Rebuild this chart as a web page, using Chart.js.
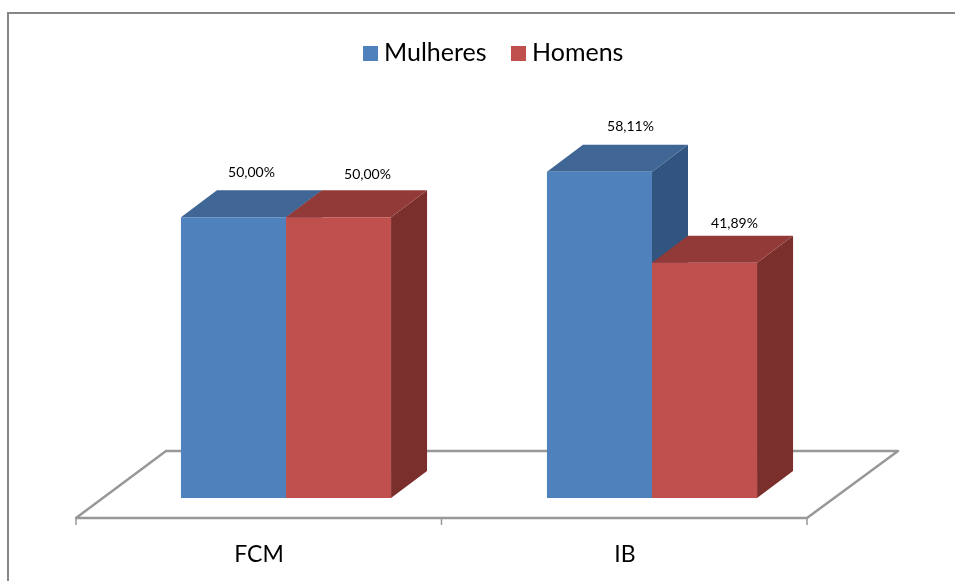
<!DOCTYPE html>
<html>
<head>
<meta charset="utf-8">
<style>
    html, body { margin: 0; padding: 0; background: #fff; }
    canvas { display: block; }
</style>
<script src="https://cdn.jsdelivr.net/npm/chart.js@4"></script>
</head>
<body>
<canvas id="generoChart" width="955" height="581"></canvas>
<script>
const categories = ['FCM', 'IB'];
const mulheres = [50.00, 58.11];
const homens = [50.00, 41.89];

const fontName = 'Lato, "Open Sans", sans-serif';
const depthX = 36, depthY = 27;

// colours of the two visible extra faces of each 3D bar
const faces = [
    { top: '#3f6695', side: '#31557f' },
    { top: '#923a37', side: '#7b2f2d' }
];
// value labels do not sit at a fixed spot over the bars in the original
const labelShift = [
    [{ x: 18, y: -18 }, { x: 31, y: -18 }],
    [{ x: 29, y: -16 }, { x: 30, y: -12 }]
];

function formatPct(value) {
    return value.toFixed(2).replace('.', ',') + '%';
}

function polygon(ctx, pts, fill) {
    ctx.fillStyle = fill;
    ctx.beginPath();
    pts.forEach(([x, y], i) => i ? ctx.lineTo(x, y) : ctx.moveTo(x, y));
    ctx.closePath();
    ctx.fill();
}

const fakeThreeD = {
    id: 'fakeThreeD',
    beforeDraw(chart) {
        const ctx = chart.ctx;
        ctx.save();
        ctx.strokeStyle = '#868686';
        ctx.lineWidth = 2;
        ctx.beginPath();
        ctx.moveTo(8, 581);
        ctx.lineTo(8, 13);
        ctx.lineTo(955, 13);
        ctx.stroke();
        ctx.restore();
    },
    beforeDatasetsDraw(chart) {
        const ctx = chart.ctx;
        const area = chart.chartArea;
        const floorY = area.bottom + 20;
        const x0 = area.left - 27, x1 = area.right - 28;

        // floor of the chart
        ctx.save();
        ctx.strokeStyle = '#989898';
        ctx.lineWidth = 2.5;
        ctx.lineJoin = 'round';
        ctx.beginPath();
        ctx.moveTo(x0, floorY);
        ctx.lineTo(x0 + 90, floorY - 67);
        ctx.lineTo(x1 + 91, floorY - 67);
        ctx.lineTo(x1, floorY);
        ctx.closePath();
        ctx.stroke();
        ctx.lineWidth = 1.5;
        [x0, (x0 + x1) / 2, x1].forEach(x => {
            ctx.beginPath();
            ctx.moveTo(x, floorY);
            ctx.lineTo(x, floorY + 7);
            ctx.stroke();
        });

        // side and top faces, first series first so the second one overlaps it
        chart.data.datasets.forEach((ds, d) => {
            chart.getDatasetMeta(d).data.forEach(bar => {
                const half = bar.width / 2;
                const l = bar.x - half, r = bar.x + half;
                polygon(ctx, [[r, bar.y], [r + depthX, bar.y - depthY], [r + depthX, bar.base - depthY], [r, bar.base]], faces[d].side);
                polygon(ctx, [[l, bar.y], [l + depthX, bar.y - depthY], [r + depthX, bar.y - depthY], [r, bar.y]], faces[d].top);
            });
        });
        ctx.restore();
    },
    afterDatasetsDraw(chart) {
        const ctx = chart.ctx;
        ctx.save();
        ctx.textAlign = 'center';
        ctx.textBaseline = 'middle';

        // value labels
        ctx.font = '14px ' + fontName;
        ctx.fillStyle = '#000';
        chart.data.datasets.forEach((ds, d) => {
            chart.getDatasetMeta(d).data.forEach((bar, i) => {
                const s = labelShift[d][i];
                ctx.fillText(formatPct(ds.data[i]), bar.x + s.x, bar.y - depthY + s.y);
            });
        });

        // legend
        ctx.font = '25px ' + fontName;
        ctx.textAlign = 'left';
        let x = 363;
        chart.data.datasets.forEach(ds => {
            ctx.fillStyle = ds.backgroundColor;
            ctx.fillRect(x, 46, 15, 15);
            ctx.fillStyle = '#000';
            ctx.fillText(ds.label, x + 21, 53);
            x += 148;
        });
        ctx.restore();
    }
};

new Chart(document.getElementById('generoChart').getContext('2d'), {
    type: 'bar',
    data: {
        labels: categories,
        datasets: [
            { label: 'Mulheres', data: mulheres, backgroundColor: '#4f81bd' },
            { label: 'Homens', data: homens, backgroundColor: '#c0504d' }
        ]
    },
    options: {
        responsive: false,
        animation: false,
        layout: { padding: { top: 105, left: 103, right: 120, bottom: 0 } },
        datasets: { bar: { categoryPercentage: 0.574, barPercentage: 1 } },
        scales: {
            x: {
                grid: { display: false },
                border: { display: false },
                afterFit: scale => { scale.height = 83; },
                ticks: {
                    labelOffset: -27,
                    padding: 35,
                    color: '#000',
                    font: { family: fontName, size: 23 }
                }
            },
            y: { display: false, min: 0, max: 70 }
        },
        plugins: {
            legend: { display: false },
            tooltip: { enabled: false }
        }
    },
    plugins: [fakeThreeD]
});
</script>
</body>
</html>
